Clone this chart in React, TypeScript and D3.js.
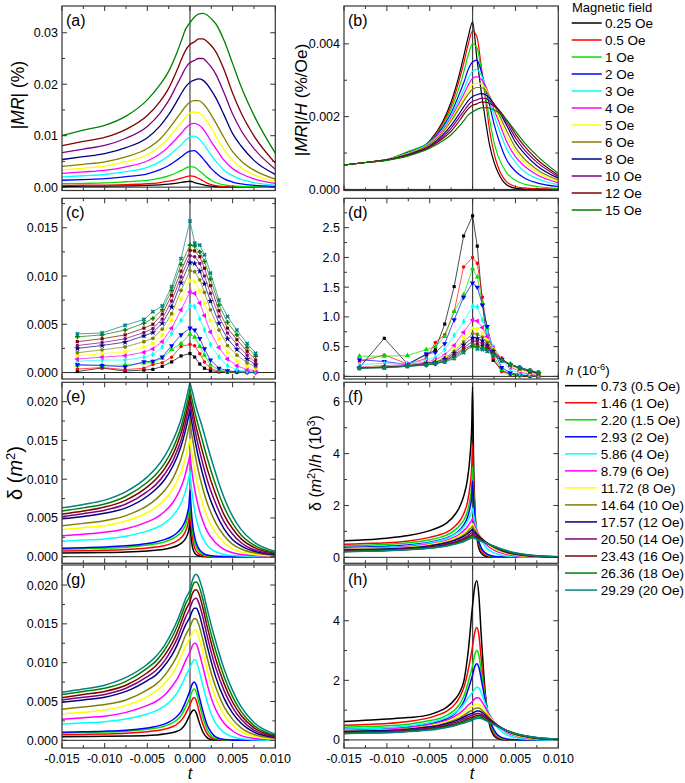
import React from 'react';
import * as d3 from 'd3';

const FONT = "'Liberation Sans', Arial, Helvetica, sans-serif";

// ---------- legends ----------
const fieldLabels = ['0.25 Oe', '0.5 Oe', '1 Oe', '2 Oe', '3 Oe', '4 Oe', '5 Oe', '6 Oe', '8 Oe', '10 Oe', '12 Oe', '15 Oe'];
const fieldColors = ['#000000', '#ff0000', '#00e000', '#0000ff', '#00ffff', '#ff00ff', '#ffff00', '#808000', '#000080', '#800080', '#800000', '#008000'];
const hLabels = ['0.73 (0.5 Oe)', '1.46 (1 Oe)', '2.20 (1.5 Oe)', '2.93 (2 Oe)', '5.86 (4 Oe)', '8.79 (6 Oe)', '11.72 (8 Oe)', '14.64 (10 Oe)', '17.57 (12 Oe)', '20.50 (14 Oe)', '23.43 (16 Oe)', '26.36 (18 Oe)', '29.29 (20 Oe)'];
const hColors = ['#000000', '#ff0000', '#00e000', '#0000ff', '#00ffff', '#ff00ff', '#ffff00', '#808000', '#000080', '#800080', '#800000', '#008000', '#008080'];
const markerKinds = ['square', 'circle', 'up', 'down', 'diamond', 'left', 'right', 'hex', 'star', 'pent', 'square', 'plus', 'x'];

// ---------- x axis ----------
const xTickValues = [-0.015, -0.01, -0.005, 0, 0.005, 0.01];
const xTickLabels = ['-0.015', '-0.010', '-0.005', '0.000', '0.005', '0.010'];
const xMinorValues = [-0.0125, -0.0075, -0.0025, 0.0025, 0.0075];

// ---------- panel (a) & (b): t in 1e-3 ----------
const tGridAB = [-15, -12.5, -10, -7.5, -5, -3.5, -2.5, -1.5, -1, -0.5, 0, 0.5, 1, 1.5, 2, 2.5, 3, 4, 5, 6, 7.5, 10];
// |MR| (%) in units of 1e-3
const mrPercent = [
  [0.17, 0.19, 0.21, 0.25, 0.33, 0.46, 0.60, 0.80, 0.93, 1.05, 1.15, 0.90, 0.68, 0.48, 0.30, 0.19, 0.11, 0.03, 0.01, 0, 0, 0],
  [0.34, 0.37, 0.41, 0.49, 0.66, 0.90, 1.15, 1.53, 1.75, 2.0, 2.18, 2.1, 1.7, 1.25, 0.8, 0.5, 0.3, 0.1, 0.04, 0.02, 0.01, 0.005],
  [0.67, 0.74, 0.82, 1.05, 1.31, 1.75, 2.2, 2.85, 3.25, 3.7, 4.0, 3.9, 3.3, 2.6, 1.9, 1.3, 0.9, 0.45, 0.25, 0.15, 0.08, 0.03],
  [1.34, 1.48, 1.64, 2.04, 2.6, 3.4, 4.2, 5.3, 5.9, 6.6, 7.0, 7.1, 6.5, 5.6, 4.6, 3.6, 2.8, 1.6, 1.0, 0.64, 0.36, 0.16],
  [2.01, 2.22, 2.46, 3.0, 3.84, 4.95, 6.09, 7.5, 8.25, 9.15, 9.75, 9.9, 9.45, 8.55, 7.35, 6.15, 5.1, 3.3, 2.25, 1.5, 0.9, 0.39],
  [2.68, 2.96, 3.28, 3.96, 5.08, 6.48, 7.88, 9.6, 10.52, 11.48, 12.2, 12.4, 12.12, 11.4, 10.2, 8.8, 7.6, 5.2, 3.6, 2.6, 1.6, 0.72],
  [3.35, 3.7, 4.1, 4.95, 6.3, 7.95, 9.6, 11.6, 12.6, 13.65, 14.4, 14.6, 14.5, 13.9, 12.75, 11.5, 10.0, 7.25, 5.25, 3.75, 2.4, 1.1],
  [4.02, 4.44, 4.92, 5.88, 7.5, 9.36, 11.28, 13.5, 14.64, 15.72, 16.5, 16.8, 16.8, 16.32, 15.3, 13.98, 12.6, 9.6, 6.9, 5.1, 3.3, 1.56],
  [5.36, 5.92, 6.52, 7.68, 9.6, 11.92, 14.08, 16.8, 18.24, 19.52, 20.4, 20.8, 21.04, 20.8, 20.0, 18.8, 17.44, 14.0, 10.4, 8.0, 5.2, 2.48],
  [6.7, 7.4, 8.1, 9.5, 11.8, 14.4, 16.8, 20.0, 21.6, 23.2, 24.2, 24.6, 25.0, 25.0, 24.3, 23.3, 22.0, 18.3, 14.2, 11.0, 7.5, 3.5],
  [8.04, 8.88, 9.66, 11.22, 13.92, 16.68, 19.2, 22.8, 24.84, 26.64, 27.72, 28.2, 28.8, 28.8, 28.32, 27.48, 26.4, 22.8, 18.24, 14.4, 9.96, 4.68],
  [10.05, 11.1, 12.0, 13.8, 16.95, 19.95, 22.5, 26.25, 28.5, 30.75, 31.95, 33.0, 33.6, 33.75, 33.45, 32.7, 31.8, 28.5, 24.0, 19.5, 13.95, 6.6],
];
// |MR|/H (%/Oe) in units of 1e-4
const mrPerOe = [
  [6.7, 7.4, 8.2, 9.8, 13.3, 18.5, 24.0, 32.0, 37.0, 42.0, 46.0, 36.0, 27.0, 19.0, 12.0, 7.5, 4.5, 1.2, 0.3, 0.1, 0, 0],
  [6.7, 7.4, 8.2, 9.8, 13.2, 18.0, 23.0, 30.5, 35.0, 40.0, 43.5, 42.0, 34.0, 25.0, 16.0, 10.0, 6.0, 2.0, 0.8, 0.4, 0.2, 0.1],
  [6.7, 7.4, 8.2, 10.5, 13.1, 17.5, 22.0, 28.5, 32.5, 37.0, 40.0, 39.0, 33.0, 26.0, 19.0, 13.0, 9.0, 4.5, 2.5, 1.5, 0.8, 0.3],
  [6.7, 7.4, 8.2, 10.2, 13.0, 17.0, 21.0, 26.5, 29.5, 33.0, 35.0, 35.5, 32.5, 28.0, 23.0, 18.0, 14.0, 8.0, 5.0, 3.2, 1.8, 0.8],
  [6.7, 7.4, 8.2, 10.0, 12.8, 16.5, 20.3, 25.0, 27.5, 30.5, 32.5, 33.0, 31.5, 28.5, 24.5, 20.5, 17.0, 11.0, 7.5, 5.0, 3.0, 1.3],
  [6.7, 7.4, 8.2, 9.9, 12.7, 16.2, 19.7, 24.0, 26.3, 28.7, 30.5, 31.0, 30.3, 28.5, 25.5, 22.0, 19.0, 13.0, 9.0, 6.5, 4.0, 1.8],
  [6.7, 7.4, 8.2, 9.9, 12.6, 15.9, 19.2, 23.2, 25.2, 27.3, 28.8, 29.2, 29.0, 27.8, 25.5, 23.0, 20.0, 14.5, 10.5, 7.5, 4.8, 2.2],
  [6.7, 7.4, 8.2, 9.8, 12.5, 15.6, 18.8, 22.5, 24.4, 26.2, 27.5, 28.0, 28.0, 27.2, 25.5, 23.3, 21.0, 16.0, 11.5, 8.5, 5.5, 2.6],
  [6.7, 7.4, 8.15, 9.6, 12.0, 14.9, 17.6, 21.0, 22.8, 24.4, 25.5, 26.0, 26.3, 26.0, 25.0, 23.5, 21.8, 17.5, 13.0, 10.0, 6.5, 3.1],
  [6.7, 7.4, 8.1, 9.5, 11.8, 14.4, 16.8, 20.0, 21.6, 23.2, 24.2, 24.6, 25.0, 25.0, 24.3, 23.3, 22.0, 18.3, 14.2, 11.0, 7.5, 3.5],
  [6.7, 7.4, 8.05, 9.35, 11.6, 13.9, 16.0, 19.0, 20.7, 22.2, 23.1, 23.5, 24.0, 24.0, 23.6, 22.9, 22.0, 19.0, 15.2, 12.0, 8.3, 3.9],
  [6.7, 7.4, 8.0, 9.2, 11.3, 13.3, 15.0, 17.5, 19.0, 20.5, 21.3, 22.0, 22.4, 22.5, 22.3, 21.8, 21.2, 19.0, 16.0, 13.0, 9.3, 4.4],
];

// ---------- panel (c) & (d): measured points ----------
const tGridCD = [-13.2, -10.3, -7.6, -5.4, -4.35, -3.25, -2.15, -1.05, 0, 0.55, 1.15, 1.7, 2.4, 3.4, 4.4, 5.5, 6.7, 7.7];
// delta (m^2) in units of 1e-3
const deltaMeasured = [
  [0.11, 0.47, 0.15, 0.26, 0.33, 0.64, 1.10, 1.72, 1.97, 1.60, 0.88, 0.44, 0.20, 0.07, 0.03, 0.01, 0.00, 0.00],
  [0.36, 0.52, 0.30, 0.44, 0.83, 1.02, 1.59, 2.69, 2.92, 2.77, 1.94, 1.10, 0.45, 0.12, 0.05, 0.02, 0.01, 0.00],
  [0.75, 0.74, 0.77, 0.99, 1.10, 1.47, 2.40, 3.01, 3.98, 3.67, 2.71, 1.80, 0.80, 0.25, 0.10, 0.05, 0.02, 0.01],
  [0.82, 0.73, 0.59, 1.11, 1.17, 1.61, 2.78, 3.90, 4.60, 4.40, 3.52, 2.45, 1.30, 0.45, 0.18, 0.08, 0.04, 0.02],
  [1.17, 1.29, 1.29, 1.58, 1.88, 2.64, 4.04, 5.39, 6.91, 6.86, 5.57, 4.40, 2.90, 1.60, 0.70, 0.30, 0.15, 0.10],
  [1.40, 1.60, 1.75, 2.10, 2.45, 3.20, 4.60, 6.50, 8.35, 8.20, 7.20, 5.90, 4.20, 2.60, 1.40, 0.70, 0.30, 0.20],
  [1.75, 1.95, 2.15, 2.65, 3.00, 3.90, 5.40, 7.60, 9.50, 9.40, 8.50, 7.20, 5.40, 3.50, 2.10, 1.20, 0.60, 0.40],
  [2.05, 2.35, 2.65, 3.20, 3.55, 4.50, 6.10, 8.50, 10.55, 10.45, 9.60, 8.30, 6.50, 4.40, 2.80, 1.80, 1.00, 0.60],
  [2.50, 2.80, 3.15, 3.80, 4.15, 5.10, 6.80, 9.30, 11.40, 11.30, 10.50, 9.20, 7.40, 5.10, 3.50, 2.40, 1.40, 0.80],
  [2.80, 3.10, 3.50, 4.15, 4.55, 5.55, 7.40, 9.90, 12.10, 12.00, 11.30, 10.00, 8.20, 5.80, 4.10, 2.90, 1.80, 1.00],
  [3.20, 3.50, 3.90, 4.60, 5.00, 6.05, 8.00, 10.50, 12.65, 12.60, 12.00, 10.80, 9.00, 6.40, 4.60, 3.40, 2.20, 1.30],
  [3.70, 3.90, 4.40, 5.10, 5.60, 6.50, 8.50, 11.20, 13.20, 13.10, 12.50, 11.50, 9.70, 7.00, 5.20, 3.90, 2.60, 1.70],
  [4.00, 4.10, 4.90, 5.50, 6.30, 6.90, 8.90, 11.80, 15.70, 13.40, 13.20, 12.20, 10.30, 7.50, 5.80, 4.40, 3.00, 2.00],
];
// delta/h in units of 1e3
const deltaMeasuredPerH = [
  [0.15, 0.64, 0.21, 0.36, 0.45, 0.88, 1.51, 2.36, 2.70, 2.19, 1.21, 0.60, 0.27, 0.10, 0.04, 0.01, 0.00, 0.00],
  [0.25, 0.36, 0.21, 0.30, 0.57, 0.70, 1.09, 1.84, 2.00, 1.90, 1.33, 0.75, 0.31, 0.08, 0.03, 0.01, 0.01, 0.00],
  [0.34, 0.34, 0.35, 0.45, 0.50, 0.67, 1.09, 1.37, 1.81, 1.67, 1.23, 0.82, 0.36, 0.11, 0.05, 0.02, 0.01, 0.00],
  [0.28, 0.25, 0.20, 0.38, 0.40, 0.55, 0.95, 1.33, 1.57, 1.50, 1.20, 0.84, 0.44, 0.15, 0.06, 0.03, 0.01, 0.01],
  [0.20, 0.22, 0.22, 0.27, 0.32, 0.45, 0.69, 0.92, 1.18, 1.17, 0.95, 0.75, 0.49, 0.27, 0.12, 0.05, 0.03, 0.02],
  [0.16, 0.18, 0.20, 0.24, 0.28, 0.36, 0.52, 0.74, 0.95, 0.93, 0.82, 0.67, 0.48, 0.30, 0.16, 0.08, 0.03, 0.02],
  [0.15, 0.17, 0.18, 0.23, 0.26, 0.33, 0.46, 0.65, 0.81, 0.80, 0.73, 0.61, 0.46, 0.30, 0.18, 0.10, 0.05, 0.03],
  [0.14, 0.16, 0.18, 0.22, 0.24, 0.31, 0.42, 0.58, 0.72, 0.71, 0.66, 0.57, 0.44, 0.30, 0.19, 0.12, 0.07, 0.04],
  [0.14, 0.16, 0.18, 0.22, 0.24, 0.29, 0.39, 0.53, 0.65, 0.64, 0.60, 0.52, 0.42, 0.29, 0.20, 0.14, 0.08, 0.05],
  [0.14, 0.15, 0.17, 0.20, 0.22, 0.27, 0.36, 0.48, 0.59, 0.59, 0.55, 0.49, 0.40, 0.28, 0.20, 0.14, 0.09, 0.05],
  [0.14, 0.15, 0.17, 0.20, 0.21, 0.26, 0.34, 0.45, 0.54, 0.54, 0.51, 0.46, 0.38, 0.27, 0.20, 0.15, 0.09, 0.06],
  [0.14, 0.15, 0.17, 0.19, 0.21, 0.25, 0.32, 0.42, 0.50, 0.50, 0.47, 0.44, 0.37, 0.27, 0.20, 0.15, 0.10, 0.06],
  [0.14, 0.14, 0.17, 0.19, 0.22, 0.24, 0.30, 0.40, 0.54, 0.46, 0.45, 0.42, 0.35, 0.26, 0.20, 0.15, 0.10, 0.07],
];

// ---------- panel (e) & (f) ----------
const tGridEF = [-15, -12.5, -10, -7.5, -5, -4, -3, -2, -1.5, -1, -0.6, -0.3, -0.1, 0, 0.1, 0.3, 0.6, 1, 1.5, 2, 3, 4, 5, 6, 7.5, 10];
// delta (m^2) in units of 1e-3
const deltaModel = [
  [0.47, 0.5, 0.54, 0.61, 0.75, 0.84, 0.97, 1.22, 1.42, 1.75, 2.2, 2.85, 3.7, 4.8, 3.0, 1.2, 0.4, 0.12, 0.03, 0.01, 0, 0, 0, 0, 0, 0],
  [0.73, 0.77, 0.82, 0.92, 1.12, 1.24, 1.42, 1.78, 2.05, 2.5, 3.1, 4.0, 5.1, 6.4, 4.6, 2.4, 1.0, 0.4, 0.13, 0.05, 0.01, 0, 0, 0, 0, 0],
  [0.97, 1.03, 1.1, 1.23, 1.5, 1.66, 1.9, 2.35, 2.7, 3.2, 3.9, 4.9, 6.1, 7.7, 5.8, 3.4, 1.7, 0.75, 0.3, 0.12, 0.03, 0.01, 0, 0, 0, 0],
  [1.1, 1.17, 1.25, 1.4, 1.7, 1.9, 2.2, 2.7, 3.1, 3.7, 4.5, 5.6, 6.9, 8.6, 6.8, 4.2, 2.3, 1.1, 0.5, 0.22, 0.05, 0.02, 0.01, 0, 0, 0],
  [2.0, 2.15, 2.3, 2.65, 3.3, 3.7, 4.3, 5.3, 6.0, 7.0, 8.2, 9.4, 10.4, 11.1, 9.8, 7.8, 5.6, 3.8, 2.4, 1.5, 0.65, 0.3, 0.15, 0.08, 0.04, 0.02],
  [2.7, 2.9, 3.15, 3.6, 4.5, 5.0, 5.8, 7.0, 7.9, 9.1, 10.4, 11.7, 12.6, 13.2, 12.1, 10.4, 8.4, 6.4, 4.6, 3.3, 1.8, 0.95, 0.5, 0.3, 0.15, 0.05],
  [3.5, 3.75, 4.0, 4.6, 5.7, 6.4, 7.3, 8.8, 9.8, 11.1, 12.5, 13.8, 14.7, 15.2, 14.2, 12.7, 10.8, 8.8, 6.8, 5.2, 3.1, 1.8, 1.0, 0.6, 0.3, 0.1],
  [4.0, 4.3, 4.65, 5.3, 6.6, 7.4, 8.5, 10.1, 11.3, 12.8, 14.4, 15.9, 16.9, 17.6, 16.6, 15.2, 13.2, 11.0, 8.8, 7.0, 4.4, 2.7, 1.6, 1.0, 0.5, 0.18],
  [4.9, 5.2, 5.6, 6.3, 7.8, 8.7, 9.9, 11.7, 12.9, 14.4, 16.0, 17.4, 18.4, 19.0, 18.1, 16.8, 14.9, 12.8, 10.6, 8.6, 5.7, 3.6, 2.2, 1.4, 0.7, 0.25],
  [5.2, 5.55, 6.0, 6.8, 8.4, 9.3, 10.6, 12.4, 13.7, 15.2, 16.9, 18.4, 19.4, 20.0, 19.2, 18.0, 16.2, 14.2, 12.0, 10.0, 6.9, 4.5, 2.9, 1.8, 0.9, 0.35],
  [5.5, 5.9, 6.4, 7.3, 9.0, 10.0, 11.3, 13.2, 14.5, 16.1, 17.8, 19.2, 20.2, 20.8, 20.1, 19.0, 17.3, 15.5, 13.4, 11.4, 8.1, 5.4, 3.6, 2.3, 1.2, 0.45],
  [5.9, 6.3, 6.8, 7.8, 9.6, 10.6, 12.0, 14.0, 15.3, 16.9, 18.6, 20.0, 21.0, 21.6, 21.0, 20.0, 18.5, 16.8, 14.8, 12.8, 9.3, 6.4, 4.3, 2.8, 1.5, 0.55],
  [6.3, 6.75, 7.3, 8.4, 10.3, 11.4, 12.9, 15.0, 16.3, 17.9, 19.6, 21.0, 22.0, 22.5, 22.0, 21.2, 19.8, 18.3, 16.5, 14.5, 10.8, 7.6, 5.2, 3.5, 1.9, 0.7],
];
// delta/h in units of 1e3
const deltaModelPerH = [
  [0.64, 0.68, 0.74, 0.84, 1.03, 1.15, 1.33, 1.67, 1.95, 2.40, 3.01, 3.90, 5.07, 6.58, 4.11, 1.64, 0.55, 0.16, 0.04, 0.01, 0, 0, 0, 0, 0, 0],
  [0.50, 0.53, 0.56, 0.63, 0.77, 0.85, 0.97, 1.22, 1.40, 1.71, 2.12, 2.74, 3.49, 4.38, 3.15, 1.64, 0.68, 0.27, 0.09, 0.03, 0.01, 0, 0, 0, 0, 0],
  [0.44, 0.47, 0.50, 0.56, 0.68, 0.75, 0.86, 1.07, 1.23, 1.45, 1.77, 2.23, 2.77, 3.50, 2.64, 1.55, 0.77, 0.34, 0.14, 0.05, 0.01, 0, 0, 0, 0, 0],
  [0.38, 0.40, 0.43, 0.48, 0.58, 0.65, 0.75, 0.92, 1.06, 1.26, 1.54, 1.91, 2.35, 2.94, 2.32, 1.43, 0.78, 0.38, 0.17, 0.08, 0.02, 0.01, 0, 0, 0, 0],
  [0.34, 0.37, 0.39, 0.45, 0.56, 0.63, 0.73, 0.90, 1.02, 1.19, 1.40, 1.60, 1.77, 1.89, 1.67, 1.33, 0.96, 0.65, 0.41, 0.26, 0.11, 0.05, 0.03, 0.01, 0.01, 0],
  [0.31, 0.33, 0.36, 0.41, 0.51, 0.57, 0.66, 0.80, 0.90, 1.04, 1.18, 1.33, 1.43, 1.50, 1.38, 1.18, 0.96, 0.73, 0.52, 0.38, 0.20, 0.11, 0.06, 0.03, 0.02, 0.01],
  [0.30, 0.32, 0.34, 0.39, 0.49, 0.55, 0.62, 0.75, 0.84, 0.95, 1.07, 1.18, 1.25, 1.30, 1.21, 1.08, 0.92, 0.75, 0.58, 0.44, 0.26, 0.15, 0.09, 0.05, 0.03, 0.01],
  [0.27, 0.29, 0.32, 0.36, 0.45, 0.51, 0.58, 0.69, 0.77, 0.87, 0.98, 1.09, 1.15, 1.20, 1.13, 1.04, 0.90, 0.75, 0.60, 0.48, 0.30, 0.18, 0.11, 0.07, 0.03, 0.01],
  [0.28, 0.30, 0.32, 0.36, 0.44, 0.50, 0.56, 0.67, 0.73, 0.82, 0.91, 0.99, 1.05, 1.08, 1.03, 0.96, 0.85, 0.73, 0.60, 0.49, 0.32, 0.20, 0.13, 0.08, 0.04, 0.01],
  [0.25, 0.27, 0.29, 0.33, 0.41, 0.45, 0.52, 0.60, 0.67, 0.74, 0.82, 0.90, 0.95, 0.98, 0.94, 0.88, 0.79, 0.69, 0.59, 0.49, 0.34, 0.22, 0.14, 0.09, 0.04, 0.02],
  [0.23, 0.25, 0.27, 0.31, 0.38, 0.43, 0.48, 0.56, 0.62, 0.69, 0.76, 0.82, 0.86, 0.89, 0.86, 0.81, 0.74, 0.66, 0.57, 0.49, 0.35, 0.23, 0.15, 0.10, 0.05, 0.02],
  [0.22, 0.24, 0.26, 0.30, 0.36, 0.40, 0.46, 0.53, 0.58, 0.64, 0.71, 0.76, 0.80, 0.82, 0.80, 0.76, 0.70, 0.64, 0.56, 0.49, 0.35, 0.24, 0.16, 0.11, 0.06, 0.02],
  [0.22, 0.23, 0.25, 0.29, 0.35, 0.39, 0.44, 0.51, 0.56, 0.61, 0.67, 0.72, 0.75, 0.77, 0.75, 0.72, 0.68, 0.62, 0.56, 0.50, 0.37, 0.26, 0.18, 0.12, 0.06, 0.02],
];

// ---------- panel (g) & (h) ----------
const tGridGH = [-15, -12.5, -10, -7.5, -5, -4, -3, -2, -1.5, -1, -0.5, 0, 0.25, 0.5, 0.75, 1, 1.5, 2, 2.5, 3, 4, 5, 6, 7.5, 10];
// delta (m^2) in units of 1e-3
const deltaFit = [
  [0.45, 0.48, 0.51, 0.55, 0.62, 0.69, 0.80, 1.01, 1.17, 1.46, 2.19, 3.3, 3.75, 3.9, 3.5, 2.6, 1.1, 0.35, 0.1, 0.03, 0, 0, 0, 0, 0],
  [0.72, 0.76, 0.81, 0.9, 1.1, 1.22, 1.42, 1.78, 2.1, 2.6, 3.45, 4.6, 5.25, 5.5, 5.1, 4.0, 2.1, 0.85, 0.3, 0.1, 0.02, 0, 0, 0, 0],
  [0.95, 1.0, 1.06, 1.17, 1.42, 1.57, 1.82, 2.27, 2.65, 3.25, 4.3, 5.5, 6.3, 6.6, 6.2, 5.1, 3.0, 1.4, 0.6, 0.25, 0.05, 0.01, 0, 0, 0],
  [1.05, 1.1, 1.17, 1.3, 1.6, 1.78, 2.08, 2.65, 3.1, 3.8, 5.0, 6.4, 7.2, 7.5, 7.1, 6.0, 3.8, 2.0, 1.0, 0.45, 0.1, 0.02, 0, 0, 0],
  [2.1, 2.25, 2.4, 2.75, 3.4, 3.8, 4.4, 5.4, 6.1, 7.1, 8.3, 9.4, 10.0, 10.4, 10.2, 9.3, 7.1, 5.0, 3.4, 2.2, 1.0, 0.45, 0.2, 0.08, 0.02],
  [2.7, 2.9, 3.1, 3.6, 4.5, 5.0, 5.8, 7.1, 7.9, 9.0, 10.3, 11.4, 12.1, 12.5, 12.4, 11.6, 9.5, 7.3, 5.4, 4.0, 2.2, 1.2, 0.6, 0.25, 0.08],
  [3.4, 3.6, 3.9, 4.5, 5.6, 6.3, 7.3, 8.7, 9.7, 10.9, 12.2, 13.2, 13.8, 14.2, 14.1, 13.4, 11.4, 9.1, 7.1, 5.5, 3.3, 1.9, 1.1, 0.5, 0.15],
  [4.0, 4.3, 4.6, 5.2, 6.5, 7.2, 8.3, 9.9, 10.9, 12.2, 13.6, 14.6, 15.3, 15.7, 15.6, 15.0, 13.0, 10.7, 8.6, 6.9, 4.3, 2.7, 1.6, 0.75, 0.25],
  [4.9, 5.2, 5.55, 6.3, 7.7, 8.4, 9.6, 11.2, 12.3, 13.6, 14.9, 15.9, 16.6, 17.0, 17.0, 16.5, 14.5, 12.2, 10.1, 8.2, 5.4, 3.5, 2.2, 1.05, 0.35],
  [5.2, 5.55, 5.9, 6.7, 8.2, 9.0, 10.2, 12.0, 13.1, 14.5, 15.9, 17.0, 17.8, 18.2, 18.3, 17.8, 15.9, 13.5, 11.3, 9.4, 6.4, 4.2, 2.7, 1.3, 0.45],
  [5.5, 5.9, 6.3, 7.1, 8.7, 9.6, 10.9, 12.7, 13.9, 15.3, 16.8, 17.9, 18.8, 19.3, 19.4, 19.0, 17.1, 14.7, 12.5, 10.5, 7.3, 4.9, 3.2, 1.6, 0.55],
  [5.9, 6.3, 6.7, 7.6, 9.3, 10.2, 11.6, 13.5, 14.7, 16.1, 17.6, 18.7, 19.7, 20.3, 20.4, 20.0, 18.2, 15.8, 13.6, 11.6, 8.2, 5.6, 3.7, 1.9, 0.65],
  [6.2, 6.6, 7.1, 8.1, 9.8, 10.8, 12.2, 14.2, 15.4, 16.8, 18.3, 19.4, 20.5, 21.2, 21.4, 21.0, 19.3, 17.0, 14.8, 12.8, 9.2, 6.4, 4.3, 2.3, 0.8],
];
// delta/h in units of 1e3
const deltaFitPerH = [
  [0.62, 0.66, 0.70, 0.75, 0.85, 0.95, 1.10, 1.38, 1.60, 2.00, 3.00, 4.52, 5.14, 5.34, 4.79, 3.56, 1.51, 0.48, 0.14, 0.04, 0, 0, 0, 0, 0],
  [0.49, 0.52, 0.55, 0.62, 0.75, 0.84, 0.97, 1.22, 1.44, 1.78, 2.36, 3.15, 3.60, 3.77, 3.49, 2.74, 1.44, 0.58, 0.21, 0.07, 0.01, 0, 0, 0, 0],
  [0.43, 0.45, 0.48, 0.53, 0.65, 0.71, 0.83, 1.03, 1.20, 1.48, 1.95, 2.50, 2.86, 3.00, 2.82, 2.32, 1.36, 0.64, 0.27, 0.11, 0.02, 0, 0, 0, 0],
  [0.36, 0.38, 0.40, 0.44, 0.55, 0.61, 0.71, 0.90, 1.06, 1.30, 1.71, 2.18, 2.46, 2.56, 2.42, 2.05, 1.30, 0.68, 0.34, 0.15, 0.03, 0.01, 0, 0, 0],
  [0.36, 0.38, 0.41, 0.47, 0.58, 0.65, 0.75, 0.92, 1.04, 1.21, 1.42, 1.60, 1.71, 1.77, 1.74, 1.59, 1.21, 0.85, 0.58, 0.38, 0.17, 0.08, 0.03, 0.01, 0],
  [0.31, 0.33, 0.35, 0.41, 0.51, 0.57, 0.66, 0.81, 0.90, 1.02, 1.17, 1.30, 1.38, 1.42, 1.41, 1.32, 1.08, 0.83, 0.61, 0.46, 0.25, 0.14, 0.07, 0.03, 0.01],
  [0.29, 0.31, 0.33, 0.38, 0.48, 0.54, 0.62, 0.74, 0.83, 0.93, 1.04, 1.13, 1.18, 1.21, 1.20, 1.14, 0.97, 0.78, 0.61, 0.47, 0.28, 0.16, 0.09, 0.04, 0.01],
  [0.27, 0.29, 0.31, 0.36, 0.44, 0.49, 0.57, 0.68, 0.74, 0.83, 0.93, 1.00, 1.05, 1.07, 1.07, 1.02, 0.89, 0.73, 0.59, 0.47, 0.29, 0.18, 0.11, 0.05, 0.02],
  [0.28, 0.30, 0.32, 0.36, 0.44, 0.48, 0.55, 0.64, 0.70, 0.77, 0.85, 0.90, 0.94, 0.97, 0.97, 0.94, 0.83, 0.69, 0.57, 0.47, 0.31, 0.20, 0.13, 0.06, 0.02],
  [0.25, 0.27, 0.29, 0.33, 0.40, 0.44, 0.50, 0.59, 0.64, 0.71, 0.78, 0.83, 0.87, 0.89, 0.89, 0.87, 0.78, 0.66, 0.55, 0.46, 0.31, 0.20, 0.13, 0.06, 0.02],
  [0.23, 0.25, 0.27, 0.30, 0.37, 0.41, 0.47, 0.54, 0.59, 0.65, 0.72, 0.76, 0.80, 0.82, 0.83, 0.81, 0.73, 0.63, 0.53, 0.45, 0.31, 0.21, 0.14, 0.07, 0.02],
  [0.22, 0.24, 0.25, 0.29, 0.35, 0.39, 0.44, 0.51, 0.56, 0.61, 0.67, 0.71, 0.75, 0.77, 0.77, 0.76, 0.69, 0.60, 0.52, 0.44, 0.31, 0.21, 0.14, 0.07, 0.02],
  [0.21, 0.23, 0.24, 0.28, 0.33, 0.37, 0.42, 0.48, 0.53, 0.57, 0.62, 0.66, 0.70, 0.72, 0.73, 0.72, 0.66, 0.58, 0.51, 0.44, 0.31, 0.22, 0.15, 0.08, 0.03],
];

// ---------- layout ----------
type Box = { x0: number; x1: number; y0: number; y1: number };
const COL_L = { x0: 62, x1: 275.3 };
const COL_R = { x0: 344, x1: 558.3 };
const ROWS = [
  { y0: 6, y1: 190.5 },
  { y0: 198.3, y1: 379 },
  { y0: 382.3, y1: 563.3 },
  { y0: 565, y1: 748 },
];

function makeMarker(kind: string): { d: string; rot: number } {
  const sym = (t: d3.SymbolType, s: number) => d3.symbol(t, s)() as string;
  switch (kind) {
    case 'square': return { d: sym(d3.symbolSquare, 10), rot: 0 };
    case 'circle': return { d: sym(d3.symbolCircle, 10), rot: 0 };
    case 'up': return { d: sym(d3.symbolTriangle, 12), rot: 0 };
    case 'down': return { d: sym(d3.symbolTriangle, 12), rot: 180 };
    case 'diamond': return { d: sym(d3.symbolDiamond, 11), rot: 0 };
    case 'left': return { d: sym(d3.symbolTriangle, 12), rot: -90 };
    case 'right': return { d: sym(d3.symbolTriangle, 12), rot: 90 };
    case 'hex': return { d: sym(d3.symbolCircle, 11), rot: 0 };
    case 'star': return { d: sym(d3.symbolStar, 13), rot: 0 };
    case 'pent': return { d: sym(d3.symbolCircle, 10), rot: 0 };
    case 'plus': return { d: sym(d3.symbolCross, 12), rot: 0 };
    case 'x': return { d: sym(d3.symbolCross, 12), rot: 45 };
    default: return { d: sym(d3.symbolCircle, 10), rot: 0 };
  }
}

interface PanelProps {
  id: string;
  box: Box;
  yDomain: [number, number];
  yTicks: number[];
  yTickLabels: string[];
  yMinor: number[];
  showXLabels: boolean;
  tag: string;
  tGrid: number[];
  series: number[][];
  vScale: number;
  colors: string[];
  strokeWidth: number;
  markers?: boolean;
}

function Panel(p: PanelProps) {
  const { x0, x1, y0, y1 } = p.box;
  const x = d3.scaleLinear().domain([-0.015, 0.01]).range([x0, x1]);
  const y = d3.scaleLinear().domain(p.yDomain).range([y1, y0]);
  const line = d3.line<[number, number]>()
    .x(d => x(d[0]))
    .y(d => y(d[1]))
    .curve(p.markers ? d3.curveLinear : d3.curveMonotoneX);
  const pts = p.series.map(s => s.map((v, i) => [p.tGrid[i] * 1e-3, v * p.vScale] as [number, number]));
  const clip = `clip-${p.id}`;
  const MAJ = 5;
  const MIN = 3;
  const tickStroke = '#333';
  return (
    <g>
      <defs>
        <clipPath id={clip}>
          <rect x={x0} y={y0} width={x1 - x0} height={y1 - y0} />
        </clipPath>
      </defs>
      <g clipPath={`url(#${clip})`}>
        <line x1={x0} x2={x1} y1={y(0)} y2={y(0)} stroke="#222" strokeWidth={1} />
        <line x1={x(0)} x2={x(0)} y1={y0} y2={y1} stroke="#444" strokeWidth={1.2} />
        {pts.map((s, i) => (
          <path key={i} d={line(s) as string} fill="none" stroke={p.colors[i]} strokeWidth={p.strokeWidth} strokeLinejoin="round" />
        ))}
        {p.markers && pts.map((s, i) => {
          const m = makeMarker(markerKinds[i]);
          return (
            <g key={'m' + i} fill={p.colors[i]}>
              {s.map((d, j) => (
                <path key={j} d={m.d} transform={`translate(${x(d[0])},${y(d[1])}) rotate(${m.rot})`} />
              ))}
            </g>
          );
        })}
      </g>
      <rect x={x0} y={y0} width={x1 - x0} height={y1 - y0} fill="none" stroke="#333" strokeWidth={1.2} />
      {xTickValues.map((v, i) => (
        <g key={'xt' + i} stroke={tickStroke} strokeWidth={1}>
          <line x1={x(v)} x2={x(v)} y1={y1} y2={y1 - MAJ} />
          <line x1={x(v)} x2={x(v)} y1={y0} y2={y0 + MAJ} />
        </g>
      ))}
      {xMinorValues.map((v, i) => (
        <g key={'xm' + i} stroke={tickStroke} strokeWidth={1}>
          <line x1={x(v)} x2={x(v)} y1={y1} y2={y1 - MIN} />
          <line x1={x(v)} x2={x(v)} y1={y0} y2={y0 + MIN} />
        </g>
      ))}
      {p.showXLabels && xTickValues.map((v, i) => (
        <text key={'xl' + i} x={x(v)} y={763} textAnchor="middle" fontSize={12.5} fill="#000">{xTickLabels[i]}</text>
      ))}
      {p.yTicks.map((v, i) => (
        <g key={'yt' + i}>
          <line x1={x0} x2={x0 + MAJ} y1={y(v)} y2={y(v)} stroke={tickStroke} strokeWidth={1} />
          <line x1={x1} x2={x1 - MAJ} y1={y(v)} y2={y(v)} stroke={tickStroke} strokeWidth={1} />
          <text x={x0 - 4} y={y(v)} dy="0.36em" textAnchor="end" fontSize={12.5} fill="#000">{p.yTickLabels[i]}</text>
        </g>
      ))}
      {p.yMinor.map((v, i) => (
        <g key={'ym' + i} stroke={tickStroke} strokeWidth={1}>
          <line x1={x0} x2={x0 + MIN} y1={y(v)} y2={y(v)} />
          <line x1={x1} x2={x1 - MIN} y1={y(v)} y2={y(v)} />
        </g>
      ))}
      <text x={x0 + 4} y={y0 + 19.5} fontSize={16} fill="#000">{p.tag}</text>
    </g>
  );
}

export default function App() {
  const Lb = (r: number): Box => ({ ...COL_L, ...ROWS[r] });
  const Rb = (r: number): Box => ({ ...COL_R, ...ROWS[r] });
  const panels: PanelProps[] = [
    {
      id: 'a', box: Lb(0), yDomain: [-0.00065, 0.0352], yTicks: [0, 0.01, 0.02, 0.03],
      yTickLabels: ['0.00', '0.01', '0.02', '0.03'], yMinor: [0.005, 0.015, 0.025],
      showXLabels: false, tag: '(a)', tGrid: tGridAB, series: mrPercent, vScale: 1e-3,
      colors: fieldColors, strokeWidth: 1.3,
    },
    {
      id: 'b', box: Rb(0), yDomain: [-0.00003, 0.00504], yTicks: [0, 0.002, 0.004],
      yTickLabels: ['0.000', '0.002', '0.004'], yMinor: [0.001, 0.003],
      showXLabels: false, tag: '(b)', tGrid: tGridAB, series: mrPerOe, vScale: 1e-4,
      colors: fieldColors, strokeWidth: 1.2,
    },
    {
      id: 'c', box: Lb(1), yDomain: [-0.00067, 0.01805], yTicks: [0, 0.005, 0.01, 0.015],
      yTickLabels: ['0.000', '0.005', '0.010', '0.015'], yMinor: [0.0025, 0.0075, 0.0125, 0.0175],
      showXLabels: false, tag: '(c)', tGrid: tGridCD, series: deltaMeasured, vScale: 1e-3,
      colors: hColors, strokeWidth: 0.7, markers: true,
    },
    {
      id: 'd', box: Rb(1), yDomain: [-0.044, 2.994], yTicks: [0, 0.5, 1, 1.5, 2, 2.5],
      yTickLabels: ['0.0', '0.5', '1.0', '1.5', '2.0', '2.5'], yMinor: [0.25, 0.75, 1.25, 1.75, 2.25, 2.75],
      showXLabels: false, tag: '(d)', tGrid: tGridCD, series: deltaMeasuredPerH, vScale: 1,
      colors: hColors, strokeWidth: 0.7, markers: true,
    },
    {
      id: 'e', box: Lb(2), yDomain: [-0.00085, 0.0225], yTicks: [0, 0.005, 0.01, 0.015, 0.02],
      yTickLabels: ['0.000', '0.005', '0.010', '0.015', '0.020'], yMinor: [0.0025, 0.0075, 0.0125, 0.0175],
      showXLabels: false, tag: '(e)', tGrid: tGridEF, series: deltaModel, vScale: 1e-3,
      colors: hColors, strokeWidth: 1.5,
    },
    {
      id: 'f', box: Rb(2), yDomain: [-0.23, 6.75], yTicks: [0, 2, 4, 6],
      yTickLabels: ['0', '2', '4', '6'], yMinor: [1, 3, 5],
      showXLabels: false, tag: '(f)', tGrid: tGridEF, series: deltaModelPerH, vScale: 1,
      colors: hColors, strokeWidth: 1.5,
    },
    {
      id: 'g', box: Lb(3), yDomain: [-0.00099, 0.02258], yTicks: [0, 0.005, 0.01, 0.015, 0.02],
      yTickLabels: ['0.000', '0.005', '0.010', '0.015', '0.020'], yMinor: [0.0025, 0.0075, 0.0125, 0.0175],
      showXLabels: true, tag: '(g)', tGrid: tGridGH, series: deltaFit, vScale: 1e-3,
      colors: hColors, strokeWidth: 1.5,
    },
    {
      id: 'h', box: Rb(3), yDomain: [-0.27, 5.87], yTicks: [0, 2, 4],
      yTickLabels: ['0', '2', '4'], yMinor: [1, 3, 5],
      showXLabels: true, tag: '(h)', tGrid: tGridGH, series: deltaFitPerH, vScale: 1,
      colors: hColors, strokeWidth: 1.5,
    },
  ];

  return (
    <svg width={685} height={783} viewBox="0 0 685 783"
      style={{ position: 'absolute', left: 0, top: 0, background: '#fff' }}
      fontFamily={FONT}>
      <rect x={0} y={0} width={685} height={783} fill="#fff" />
      {panels.map(p => <Panel key={p.id} {...p} />)}

      {/* y-axis titles */}
      <text transform="translate(24,95) rotate(-90)" textAnchor="middle" fontSize={17.5} fill="#000">
        |<tspan fontStyle="italic">MR</tspan>| (%)
      </text>
      <text transform="translate(307,100) rotate(-90)" textAnchor="middle" fontSize={17.3} fill="#000">
        |<tspan fontStyle="italic">MR</tspan>|/<tspan fontStyle="italic">H</tspan> (%/Oe)
      </text>
      <text transform="translate(22,473) rotate(-90)" textAnchor="middle" fontSize={20} fill="#000">
        δ (<tspan fontStyle="italic">m</tspan><tspan dy={-7} fontSize={13}>2</tspan><tspan dy={7}>)</tspan>
      </text>
      <text transform="translate(321,463) rotate(-90)" textAnchor="middle" fontSize={16} fill="#000">
        δ (<tspan fontStyle="italic">m</tspan><tspan dy={-6} fontSize={11}>2</tspan><tspan dy={6}>)/</tspan><tspan fontStyle="italic">h</tspan> (10<tspan dy={-6} fontSize={11}>3</tspan><tspan dy={6}>)</tspan>
      </text>

      {/* x-axis titles */}
      <text x={190} y={779} textAnchor="middle" fontSize={16} fontStyle="italic" fill="#000">t</text>
      <text x={472} y={779} textAnchor="middle" fontSize={16} fontStyle="italic" fill="#000">t</text>

      {/* legend 1 */}
      <text x={572} y={12} fontSize={13} fill="#000">Magnetic field</text>
      {fieldLabels.map((lab, i) => {
        const yy = 23 + i * 17;
        return (
          <g key={'lf' + i}>
            <line x1={571.7} x2={601.7} y1={yy} y2={yy} stroke={fieldColors[i]} strokeWidth={1.5} />
            <text x={605} y={yy} dy="0.36em" fontSize={13.5} fill="#000">{lab}</text>
          </g>
        );
      })}

      {/* legend 2 */}
      <text x={566} y={374.5} fontSize={13.5} fill="#000">
        <tspan fontStyle="italic">h</tspan> (10<tspan dy={-5} fontSize={9.5}>-6</tspan><tspan dy={5}>)</tspan>
      </text>
      {hLabels.map((lab, i) => {
        const yy = 385.7 + i * 17.03;
        return (
          <g key={'lh' + i}>
            <line x1={565} x2={597} y1={yy} y2={yy} stroke={hColors[i]} strokeWidth={1.5} />
            <text x={600.7} y={yy} dy="0.36em" fontSize={13.5} fill="#000">{lab}</text>
          </g>
        );
      })}
    </svg>
  );
}
